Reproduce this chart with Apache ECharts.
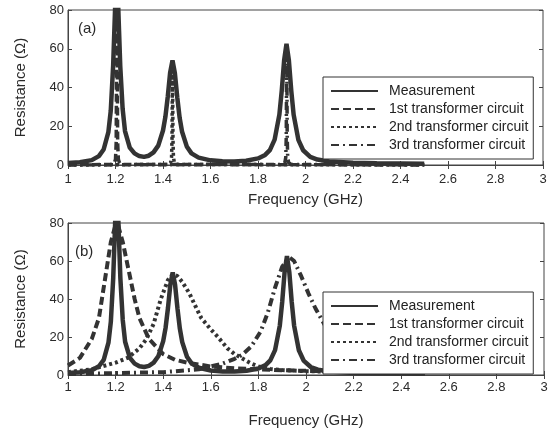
<!DOCTYPE html>
<html>
<head>
<meta charset="utf-8">
<script src="https://cdn.jsdelivr.net/npm/echarts@6/dist/echarts.min.js"></script>
<style>
  html, body { margin: 0; padding: 0; background: #fff; }
  #chart { width: 557px; height: 429px; }
</style>
</head>
<body>
<div id="chart"></div>
<script>
// measurement (same curve in both panels)
const measFreq = [1.00, 1.05, 1.10, 1.13, 1.15, 1.17, 1.18, 1.19, 1.195, 1.20, 1.205, 1.21, 1.215, 1.22, 1.23, 1.24, 1.26, 1.28, 1.30, 1.32, 1.34, 1.36, 1.38, 1.40, 1.41, 1.42, 1.43, 1.44, 1.45, 1.46, 1.47, 1.48, 1.50, 1.52, 1.55, 1.60, 1.65, 1.70, 1.75, 1.80, 1.83, 1.85, 1.87, 1.89, 1.90, 1.91, 1.92, 1.93, 1.94, 1.95, 1.97, 1.99, 2.02, 2.05, 2.10, 2.20, 2.30, 2.40, 2.50]
const measRes = [1.0, 1.4, 2.5, 4.6, 8.0, 17, 28, 51, 69, 87, 95, 87, 69, 51, 29, 17.5, 9.0, 6.0, 4.6, 4.2, 4.8, 6.5, 10.0, 17.8, 24.8, 35.2, 47.6, 54, 47.4, 35, 24.4, 17.3, 9.6, 6.0, 3.8, 2.4, 1.9, 1.8, 2.2, 3.4, 5.2, 7.7, 13.1, 26, 38.4, 54, 62.6, 54, 38.4, 26, 13, 7.6, 4.2, 2.8, 1.8, 1.1, 0.9, 0.8, 0.7]

// (a) transformer circuits - very narrow resonances
const c1aFreq = [1.0, 1.18, 1.195, 1.200, 1.203, 1.206, 1.209, 1.212, 1.217, 1.23, 2.5]
const c1aRes = [0, 0.3, 1, 3, 12, 90, 12, 3, 1, 0.3, 0]
const c2aFreq = [1.0, 1.42, 1.432, 1.436, 1.438, 1.44, 1.442, 1.444, 1.448, 1.46, 2.5]
const c2aRes = [0, 0.3, 1.2, 4, 14, 53, 14, 4, 1.2, 0.3, 0]
const c3aFreq = [1.0, 1.90, 1.913, 1.917, 1.919, 1.921, 1.923, 1.925, 1.929, 1.94, 2.5]
const c3aRes = [0, 0.3, 1.2, 4, 15, 62, 15, 4, 1.2, 0.3, 0]

// (b) transformer circuits - broad resonances
const c1bFreq = [1.00, 1.05, 1.10, 1.13, 1.16, 1.18, 1.20, 1.21, 1.23, 1.25, 1.28, 1.30, 1.34, 1.40, 1.45, 1.50, 1.55, 1.60, 1.70, 1.80, 1.90, 2.00, 2.20, 2.50]
const c1bRes = [5, 9, 19, 30, 54, 70, 79, 79, 70, 58, 40, 30, 19, 11, 8, 6.5, 5.5, 4.5, 3.5, 3, 2.5, 2.2, 1.8, 1.4]
const c2bFreq = [1.00, 1.10, 1.20, 1.25, 1.30, 1.33, 1.36, 1.39, 1.42, 1.44, 1.46, 1.48, 1.51, 1.54, 1.56, 1.60, 1.63, 1.67, 1.70, 1.77, 1.80, 1.85, 1.90, 2.00, 2.20, 2.50]
const c2bRes = [1.5, 3, 6.5, 9, 14, 19, 27, 40, 50, 53, 52, 49, 43, 35, 30, 24, 20, 14, 11, 6, 4.5, 3.2, 2.6, 2, 1.5, 1.2]
const c3bFreq = [1.00, 1.40, 1.55, 1.65, 1.70, 1.73, 1.77, 1.81, 1.84, 1.87, 1.90, 1.93, 1.95, 1.98, 2.01, 2.04, 2.08, 2.12, 2.20, 2.30, 2.40, 2.50]
const c3bRes = [0.5, 1.5, 3, 6, 8.5, 10.5, 15, 23, 33, 46, 57, 62, 60, 52, 43, 35, 26, 20, 12, 7, 5, 3.5]

const names = ['Measurement', '1st transformer circuit', '2nd transformer circuit', '3rd transformer circuit']
const ink = '#333'
const font = 'Liberation Sans, Arial, sans-serif'

const pairs = (xs, ys) => xs.map((x, i) => [x, ys[i]])

const lineSeries = (name, xs, ys, grid, type, width) => ({
  name: name,
  type: 'line',
  xAxisIndex: grid * 2,
  yAxisIndex: grid * 2,
  symbol: 'none',
  data: pairs(xs, ys),
  lineStyle: { color: ink, width: width, type: type, cap: 'butt' },
  itemStyle: { color: ink }
})

const bottomX = (grid, margin, gap) => ({
  type: 'value',
  gridIndex: grid,
  min: 1,
  max: 3,
  interval: 0.2,
  name: 'Frequency (GHz)',
  nameLocation: 'middle',
  nameGap: gap,
  nameTextStyle: { fontSize: 15, color: '#2a2a2a', fontFamily: font },
  axisLine: { show: true, lineStyle: { color: '#444', width: 1 } },
  axisTick: { show: true, inside: true, length: 4, lineStyle: { color: '#444' } },
  axisLabel: { fontSize: 13, color: '#2a2a2a', margin: margin, fontFamily: font },
  splitLine: { show: false }
})

const topX = (grid) => ({
  type: 'value',
  gridIndex: grid,
  position: 'top',
  min: 1,
  max: 3,
  interval: 0.2,
  axisLine: { show: false },
  axisTick: { show: true, inside: true, length: 4, lineStyle: { color: '#444' } },
  axisLabel: { show: false },
  splitLine: { show: false }
})

const leftY = (grid) => ({
  type: 'value',
  gridIndex: grid,
  min: 0,
  max: 80,
  interval: 20,
  name: 'Resistance (\u03A9)',
  nameLocation: 'middle',
  nameGap: 40,
  nameTextStyle: { fontSize: 15, color: '#2a2a2a', fontFamily: font },
  axisLine: { show: true, lineStyle: { color: '#444', width: 1 } },
  axisTick: { show: true, inside: true, length: 4, lineStyle: { color: '#444' } },
  axisLabel: { fontSize: 13, color: '#2a2a2a', margin: 4, fontFamily: font },
  splitLine: { show: false }
})

const rightY = (grid) => ({
  type: 'value',
  gridIndex: grid,
  position: 'right',
  min: 0,
  max: 80,
  interval: 20,
  axisLine: { show: false },
  axisTick: { show: true, inside: true, length: 4, lineStyle: { color: '#444' } },
  axisLabel: { show: false },
  splitLine: { show: false }
})

const legendBox = (top) => ({
  orient: 'vertical',
  left: 323,
  top: top,
  itemWidth: 47,
  itemHeight: 14,
  itemGap: 4,
  padding: [7, 5, 7, 7],
  backgroundColor: '#fff',
  borderColor: '#333',
  borderWidth: 1,
  borderRadius: 0,
  selectedMode: false,
  itemStyle: { opacity: 0 },
  lineStyle: { width: 2 },
  textStyle: { fontSize: 14, color: '#222', fontFamily: font, lineHeight: 14, padding: [0, 0, 0, 6] },
  data: names
})

const chart = echarts.init(document.getElementById('chart'), null, { renderer: 'canvas' })

const option = {
  animation: false,
  backgroundColor: '#fff',
  textStyle: { fontFamily: font },
  title: [
    { text: '(a)', left: 78, top: 21, padding: 0, textStyle: { fontSize: 15, fontWeight: 'normal', color: '#2a2a2a', fontFamily: font } },
    { text: '(b)', left: 75, top: 244, padding: 0, textStyle: { fontSize: 15, fontWeight: 'normal', color: '#2a2a2a', fontFamily: font } }
  ],
  grid: [
    { left: 68, top: 10, width: 475, height: 155, show: true, borderColor: '#444', borderWidth: 1, backgroundColor: 'transparent' },
    { left: 68, top: 223, width: 476, height: 155, show: true, borderColor: '#444', borderWidth: 1, backgroundColor: 'transparent' }
  ],
  xAxis: [bottomX(0, 8, 27), topX(0), bottomX(1, 6, 38), topX(1)],
  yAxis: [leftY(0), rightY(0), leftY(1), rightY(1)],
  legend: [legendBox(77), legendBox(292)],
  series: [
    lineSeries(names[0], measFreq, measRes, 0, 'solid', 4.5),
    lineSeries(names[1], c1aFreq, c1aRes, 0, [8, 4], 3.5),
    lineSeries(names[2], c2aFreq, c2aRes, 0, [3, 3], 3.5),
    lineSeries(names[3], c3aFreq, c3aRes, 0, [8, 4, 2, 4], 3.5),
    lineSeries(names[0], measFreq, measRes, 1, 'solid', 4.5),
    lineSeries(names[1], c1bFreq, c1bRes, 1, [8, 4], 4),
    lineSeries(names[2], c2bFreq, c2bRes, 1, [3, 3], 4),
    lineSeries(names[3], c3bFreq, c3bRes, 1, [8, 4, 2, 4], 4)
  ]
}

chart.setOption(option)
</script>
</body>
</html>
